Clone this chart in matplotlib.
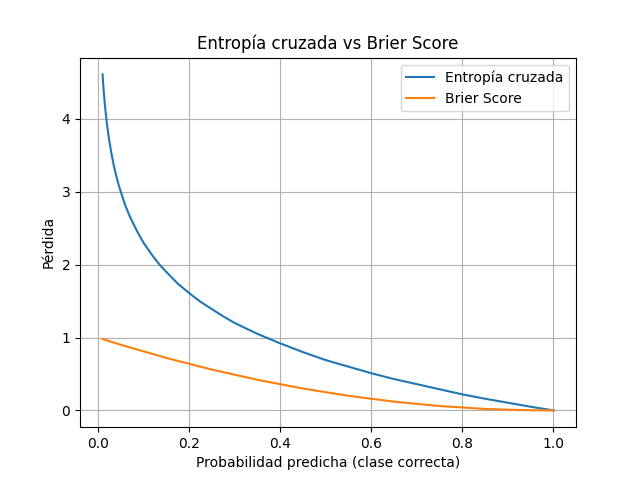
import matplotlib
matplotlib.use("Agg")
import matplotlib.pyplot as plt

# Values
p_ce = [0.01, 0.0125, 0.015, 0.0175, 0.02, 0.025, 0.03, 0.035, 0.04, 0.045, 0.05, 0.06, 0.07,
        0.08, 0.09, 0.1, 0.11, 0.12, 0.135, 0.15, 0.175, 0.2, 0.225, 0.25, 0.275, 0.3, 0.35,
        0.4, 0.45, 0.5, 0.55, 0.6, 0.65, 0.7, 0.75, 0.8, 0.85, 0.9, 0.95, 1.0]
ce = [4.61, 4.38, 4.20, 4.05, 3.91, 3.69, 3.51, 3.35, 3.22, 3.10, 3.00, 2.81, 2.66,
      2.53, 2.41, 2.30, 2.21, 2.12, 2.00, 1.90, 1.74, 1.61, 1.49, 1.39, 1.29, 1.20, 1.05,
      0.92, 0.80, 0.69, 0.60, 0.51, 0.43, 0.36, 0.29, 0.22, 0.16, 0.105, 0.05, 0.0]

p_br = [0.01, 0.05, 0.1, 0.15, 0.2, 0.25, 0.3, 0.35, 0.4, 0.45, 0.5, 0.55, 0.6,
        0.65, 0.7, 0.75, 0.8, 0.85, 0.9, 0.95, 1.0]
brier = [0.98, 0.90, 0.81, 0.72, 0.64, 0.56, 0.49, 0.42, 0.36, 0.30, 0.25, 0.20, 0.16,
         0.12, 0.09, 0.06, 0.04, 0.02, 0.01, 0.0025, 0.0]

fig, ax = plt.subplots(figsize=(6.4, 4.8), dpi=100)
ax.plot(p_ce, ce, label="Entropía cruzada")
ax.plot(p_br, brier, label="Brier Score")
ax.set_title("Entropía cruzada vs Brier Score")
ax.set_xlabel("Probabilidad predicha (clase correcta)")
ax.set_ylabel("Pérdida")
ax.grid(True)
ax.legend()
fig.savefig("out.png")
